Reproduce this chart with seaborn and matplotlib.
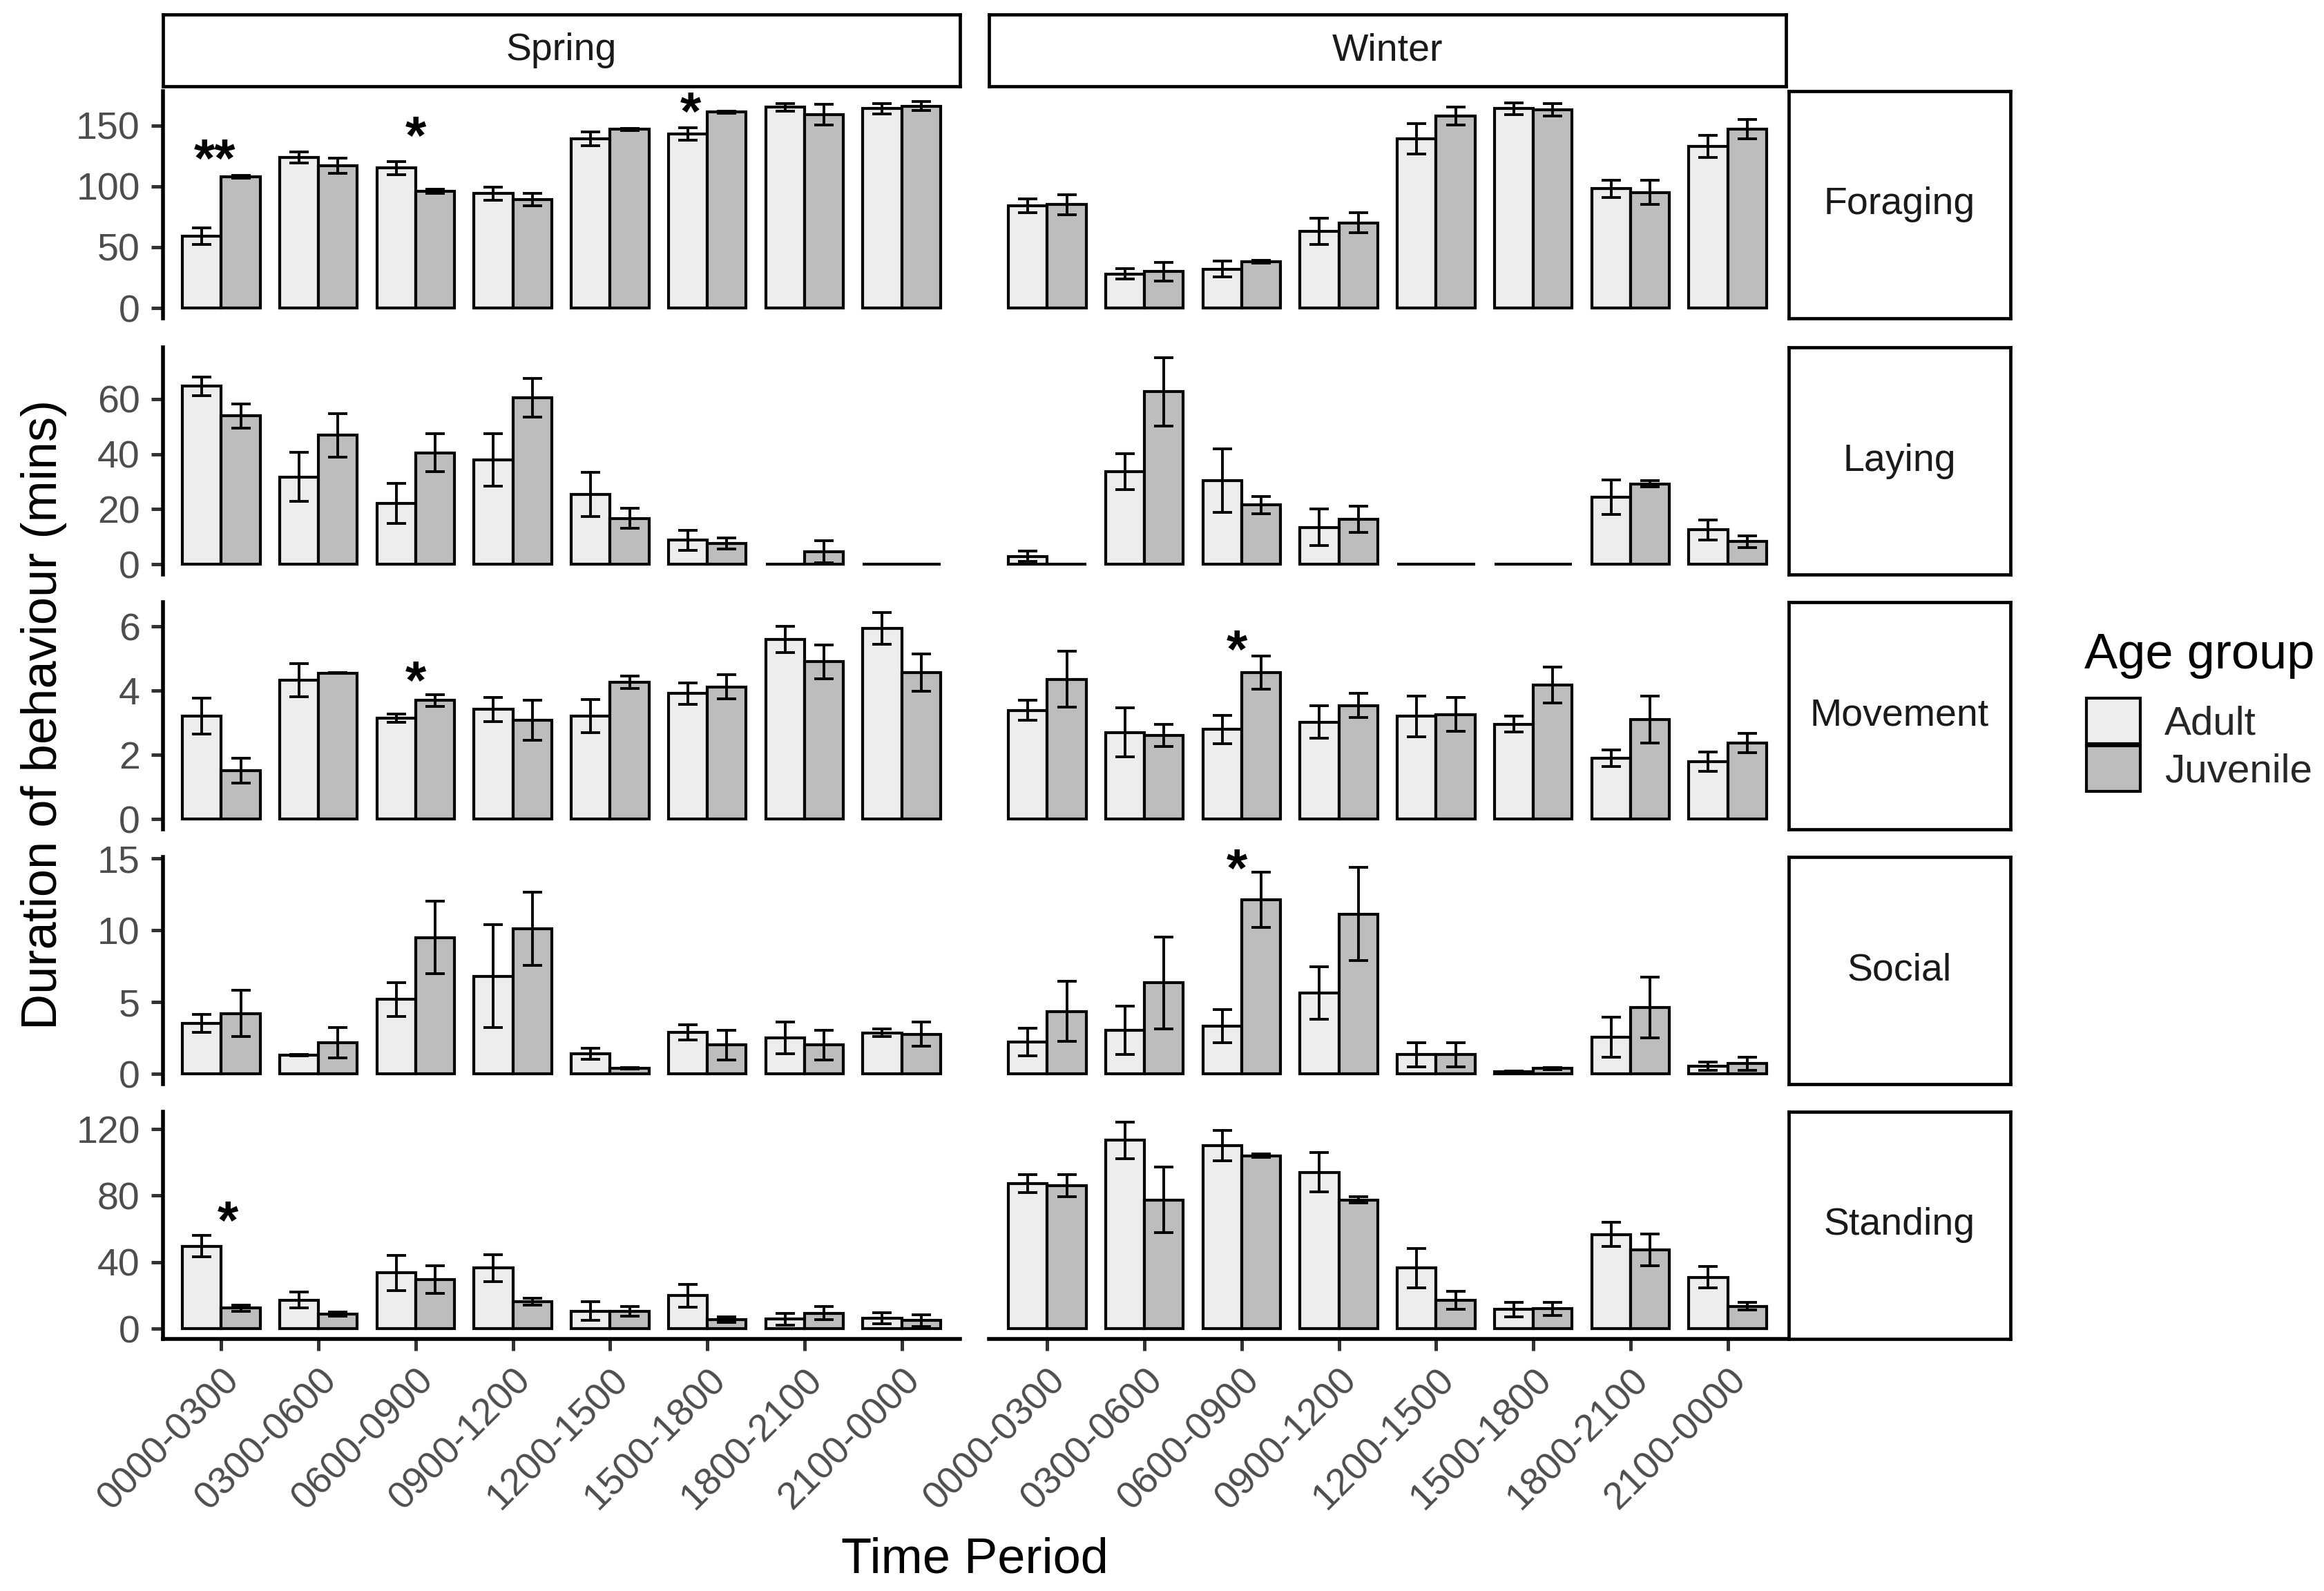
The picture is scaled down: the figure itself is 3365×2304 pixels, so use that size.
import numpy as np
import pandas as pd
import matplotlib
matplotlib.use("Agg")
import matplotlib.pyplot as plt
from matplotlib.patches import Patch
import seaborn as sns

# ---------------------------------------------------------------------
# data (mean duration in minutes, +/- SE)
# ---------------------------------------------------------------------
periods = ["0000-0300", "0300-0600", "0600-0900", "0900-1200",
           "1200-1500", "1500-1800", "1800-2100", "2100-0000"]
seasons = ["Spring", "Winter"]
behaviours = ["Foraging", "Laying", "Movement", "Social", "Standing"]
ages = ["Adult", "Juvenile"]

spring_foraging_adult = [59, 124, 115, 94, 139, 143, 165, 164]
spring_foraging_adult_se = [6.9, 4.5, 5.5, 5.4, 5.6, 5.1, 3.2, 4.2]
spring_foraging_juv = [108, 117, 96, 89, 147, 161, 159, 166]
spring_foraging_juv_se = [1.0, 6.4, 1.5, 5.1, 0.8, 0.8, 8.5, 3.8]
winter_foraging_adult = [84, 28, 32, 63, 139, 164, 98, 133]
winter_foraging_adult_se = [5.8, 4.2, 6.4, 10.9, 12.6, 4.9, 7.0, 9.2]
winter_foraging_juv = [85, 30, 38, 70, 158, 163, 95, 147]
winter_foraging_juv_se = [8.4, 7.7, 1.2, 8.1, 7.3, 5.1, 9.9, 7.9]

spring_laying_adult = [64.6, 31.7, 22.1, 37.9, 25.3, 8.7, 0, 0]
spring_laying_adult_se = [3.4, 8.9, 7.2, 9.6, 8.0, 3.7, 0, 0]
spring_laying_juv = [53.8, 46.8, 40.5, 60.4, 16.6, 7.6, 4.5, 0]
spring_laying_juv_se = [4.4, 7.9, 6.9, 7.1, 3.6, 2.0, 4.1, 0]
winter_laying_adult = [2.8, 33.7, 30.4, 13.4, 0, 0, 24.3, 12.5]
winter_laying_adult_se = [1.9, 6.5, 11.6, 6.6, 0, 0, 6.2, 3.6]
winter_laying_juv = [0, 62.6, 21.5, 16.4, 0, 0, 29.2, 8.2]
winter_laying_juv_se = [0, 12.4, 3.1, 4.8, 0, 0, 1.2, 2.2]

spring_movement_adult = [3.21, 4.33, 3.14, 3.42, 3.21, 3.91, 5.59, 5.94]
spring_movement_adult_se = [0.55, 0.52, 0.13, 0.38, 0.52, 0.33, 0.41, 0.50]
spring_movement_juv = [1.51, 4.55, 3.70, 3.08, 4.27, 4.12, 4.90, 4.56]
spring_movement_juv_se = [0.39, 0.01, 0.18, 0.63, 0.19, 0.38, 0.53, 0.58]
winter_movement_adult = [3.39, 2.70, 2.79, 3.02, 3.20, 2.96, 1.90, 1.78]
winter_movement_adult_se = [0.31, 0.76, 0.44, 0.51, 0.64, 0.24, 0.26, 0.30]
winter_movement_juv = [4.36, 2.61, 4.56, 3.54, 3.26, 4.18, 3.10, 2.37]
winter_movement_juv_se = [0.87, 0.35, 0.52, 0.37, 0.53, 0.56, 0.73, 0.30]

spring_social_adult = [3.52, 1.30, 5.18, 6.81, 1.40, 2.89, 2.52, 2.86]
spring_social_adult_se = [0.61, 0.05, 1.18, 3.57, 0.38, 0.55, 1.10, 0.27]
spring_social_juv = [4.19, 2.16, 9.50, 10.10, 0.37, 2.00, 2.00, 2.76]
spring_social_juv_se = [1.61, 1.05, 2.54, 2.56, 0.05, 1.05, 1.03, 0.83]
winter_social_adult = [2.23, 3.02, 3.32, 5.65, 1.33, 0.17, 2.56, 0.53]
winter_social_adult_se = [0.96, 1.68, 1.16, 1.83, 0.83, 0.03, 1.38, 0.28]
winter_social_juv = [4.35, 6.35, 12.13, 11.13, 1.33, 0.37, 4.62, 0.70]
winter_social_juv_se = [2.08, 3.20, 1.93, 3.26, 0.85, 0.07, 2.14, 0.47]

spring_standing_adult = [49.6, 17.2, 33.5, 36.4, 10.6, 19.8, 5.7, 6.3]
spring_standing_adult_se = [6.4, 4.9, 10.5, 8.2, 5.7, 7.0, 3.4, 3.4]
spring_standing_juv = [12.3, 8.6, 29.5, 16.3, 10.6, 5.4, 9.2, 4.9]
spring_standing_juv_se = [1.9, 1.3, 8.2, 2.1, 2.9, 1.7, 3.9, 3.6]
winter_standing_adult = [87.4, 113.2, 110.0, 94.0, 36.4, 11.5, 56.7, 30.9]
winter_standing_adult_se = [5.4, 11.0, 9.2, 11.9, 11.9, 4.3, 7.2, 6.4]
winter_standing_juv = [86.0, 77.4, 104.0, 77.4, 17.2, 12.0, 47.3, 13.5]
winter_standing_juv_se = [6.6, 19.8, 1.0, 2.0, 5.4, 3.9, 9.7, 2.1]

# significance markers: season, behaviour, period, label, height, offset
sig_season = ["Spring", "Spring", "Spring", "Spring", "Spring", "Winter", "Winter"]
sig_behaviour = ["Foraging", "Foraging", "Foraging", "Movement", "Standing", "Movement", "Social"]
sig_period = ["0000-0300", "0600-0900", "1500-1800", "0600-0900", "0000-0300", "0600-0900", "0600-0900"]
sig_label = ["**", "*", "*", "*", "*", "*", "*"]
sig_y = [128, 147, 167, 4.52, 68.8, 5.48, 14.78]
sig_dx = [-0.07, 0, -0.17, 0, 0.065, -0.05, -0.05]

row_ticks = {"Foraging": [0, 50, 100, 150], "Laying": [0, 20, 40, 60],
             "Movement": [0, 2, 4, 6], "Social": [0, 5, 10, 15],
             "Standing": [0, 40, 80, 120]}

series = [
    ("Spring", "Foraging", "Adult", spring_foraging_adult, spring_foraging_adult_se),
    ("Spring", "Foraging", "Juvenile", spring_foraging_juv, spring_foraging_juv_se),
    ("Winter", "Foraging", "Adult", winter_foraging_adult, winter_foraging_adult_se),
    ("Winter", "Foraging", "Juvenile", winter_foraging_juv, winter_foraging_juv_se),
    ("Spring", "Laying", "Adult", spring_laying_adult, spring_laying_adult_se),
    ("Spring", "Laying", "Juvenile", spring_laying_juv, spring_laying_juv_se),
    ("Winter", "Laying", "Adult", winter_laying_adult, winter_laying_adult_se),
    ("Winter", "Laying", "Juvenile", winter_laying_juv, winter_laying_juv_se),
    ("Spring", "Movement", "Adult", spring_movement_adult, spring_movement_adult_se),
    ("Spring", "Movement", "Juvenile", spring_movement_juv, spring_movement_juv_se),
    ("Winter", "Movement", "Adult", winter_movement_adult, winter_movement_adult_se),
    ("Winter", "Movement", "Juvenile", winter_movement_juv, winter_movement_juv_se),
    ("Spring", "Social", "Adult", spring_social_adult, spring_social_adult_se),
    ("Spring", "Social", "Juvenile", spring_social_juv, spring_social_juv_se),
    ("Winter", "Social", "Adult", winter_social_adult, winter_social_adult_se),
    ("Winter", "Social", "Juvenile", winter_social_juv, winter_social_juv_se),
    ("Spring", "Standing", "Adult", spring_standing_adult, spring_standing_adult_se),
    ("Spring", "Standing", "Juvenile", spring_standing_juv, spring_standing_juv_se),
    ("Winter", "Standing", "Adult", winter_standing_adult, winter_standing_adult_se),
    ("Winter", "Standing", "Juvenile", winter_standing_juv, winter_standing_juv_se),
]

records = []
for season, behaviour, age, means, ses in series:
    for period, m, s in zip(periods, means, ses):
        records.append({"season": season, "behaviour": behaviour, "age": age,
                        "period": period, "mean": m, "se": s})
df = pd.DataFrame(records)

sig = pd.DataFrame({"season": sig_season, "behaviour": sig_behaviour,
                    "period": sig_period, "label": sig_label,
                    "y": sig_y, "dx": sig_dx})

# ---------------------------------------------------------------------
# layout (pixel boxes measured on a 3365 x 2304 canvas)
# ---------------------------------------------------------------------
sns.set_theme(style="ticks")
plt.rcParams["font.family"] = ["Liberation Sans", "DejaVu Sans"]

W, H = 3365, 2304
fig = plt.figure(figsize=(W / 200, H / 200), dpi=200)
fig.patch.set_facecolor("white")

def box(x0, y0, w, h):
    return [x0 / W, 1 - (y0 + h) / H, w / W, h / H]

col_left = {"Spring": 236, "Winter": 1432}
panel_w = 1154
row_top = [132, 503, 872, 1241, 1610]
row_h = 329

age_colors = {"Adult": "#EDEDED", "Juvenile": "#BDBDBD"}
tick_grey = "#333333"
label_grey = "#4D4D4D"
star_size = 28


def add_strip(rect, text):
    sax = fig.add_axes(rect)
    sax.set_xticks([])
    sax.set_yticks([])
    sax.set_facecolor("white")
    for sp in sax.spines.values():
        sp.set_visible(True)
        sp.set_linewidth(1.7)
        sp.set_color("black")
    sax.text(0.5, 0.5, text, ha="center", va="center", fontsize=20,
             color="#1A1A1A", transform=sax.transAxes)


for r, behaviour in enumerate(behaviours):
    sub_row = df[df["behaviour"] == behaviour]
    top = (sub_row["mean"] + sub_row["se"]).max()
    ylim = (-0.05 * top, 1.05 * top)
    last_row = r == len(behaviours) - 1

    for season in seasons:
        ax = fig.add_axes(box(col_left[season], row_top[r], panel_w, row_h))
        sub = sub_row[sub_row["season"] == season]
        sns.barplot(data=sub, x="period", y="mean", hue="age", order=periods,
                    hue_order=ages, palette=age_colors, saturation=1,
                    width=0.8, edgecolor="black", linewidth=1.5,
                    errorbar=None, legend=False, ax=ax)

        # error bars at each drawn bar
        for bar in list(ax.patches):
            xc = bar.get_x() + bar.get_width() / 2
            i = int(round(xc))
            age = ages[0] if xc < i else ages[1]
            se = sub[(sub["period"] == periods[i]) & (sub["age"] == age)]["se"].iloc[0]
            ax.errorbar(xc, bar.get_height(), yerr=se, fmt="none",
                        ecolor="black", elinewidth=1.4, capsize=5,
                        capthick=1.4, zorder=4)

        # significance stars
        for _, s in sig[(sig["season"] == season) & (sig["behaviour"] == behaviour)].iterrows():
            ax.annotate(s["label"], xy=(periods.index(s["period"]) + s["dx"], s["y"]),
                        xytext=(0, -0.46 * star_size), textcoords="offset points",
                        ha="center", va="baseline", fontsize=star_size,
                        fontweight="bold", color="black")

        ax.set_xlim(-0.6, len(periods) - 0.4)
        ax.set_ylim(*ylim)
        ax.set_xlabel("")
        ax.set_ylabel("")
        ax.set_facecolor("white")
        ax.spines["top"].set_visible(False)
        ax.spines["right"].set_visible(False)
        for sp in ["left", "bottom"]:
            ax.spines[sp].set_linewidth(2.0)
            ax.spines[sp].set_color("black")

        if season == "Spring":
            ax.set_yticks(row_ticks[behaviour])
            ax.tick_params(axis="y", length=6, width=1.8, color=tick_grey,
                           labelsize=20, labelcolor=label_grey, pad=6)
        else:
            ax.spines["left"].set_visible(False)
            ax.tick_params(axis="y", left=False, labelleft=False)

        if last_row:
            ax.tick_params(axis="x", length=6, width=1.8, color=tick_grey,
                           labelsize=20, labelcolor=label_grey, pad=6)
            for lbl in ax.get_xticklabels():
                lbl.set_rotation(45)
                lbl.set_ha("right")
                lbl.set_rotation_mode("anchor")
        else:
            ax.spines["bottom"].set_visible(False)
            ax.tick_params(axis="x", bottom=False, labelbottom=False)

        if r == 0:
            add_strip(box(col_left[season], 21, panel_w, 104), season)

    add_strip(box(2590, row_top[r], 321, row_h), behaviour)

# axis titles
fig.text(1411 / W, 1 - 2277 / H, "Time Period", ha="center", va="baseline",
         fontsize=26, color="black")
fig.text(64 / W, 1 - 1035 / H, "Duration of behaviour (mins)", rotation=90,
         ha="center", va="center", fontsize=26, color="black")

# legend: title as its own text, keys below it
fig.text(3018 / W, 1 - 968 / H, "Age group", ha="left", va="baseline",
         fontsize=26, color="black")
handles = [Patch(facecolor=age_colors[a], edgecolor="black", linewidth=1.5, label=a)
           for a in ages]
leg = fig.legend(handles=handles, loc="upper left",
                 bbox_to_anchor=(3021 / W, 1 - 1011 / H), frameon=False,
                 fontsize=21, handlelength=1.33, handleheight=1.36,
                 labelspacing=0.06, handletextpad=0.6,
                 borderaxespad=0, borderpad=0)

fig.savefig("out.png", dpi=200, facecolor="white")
